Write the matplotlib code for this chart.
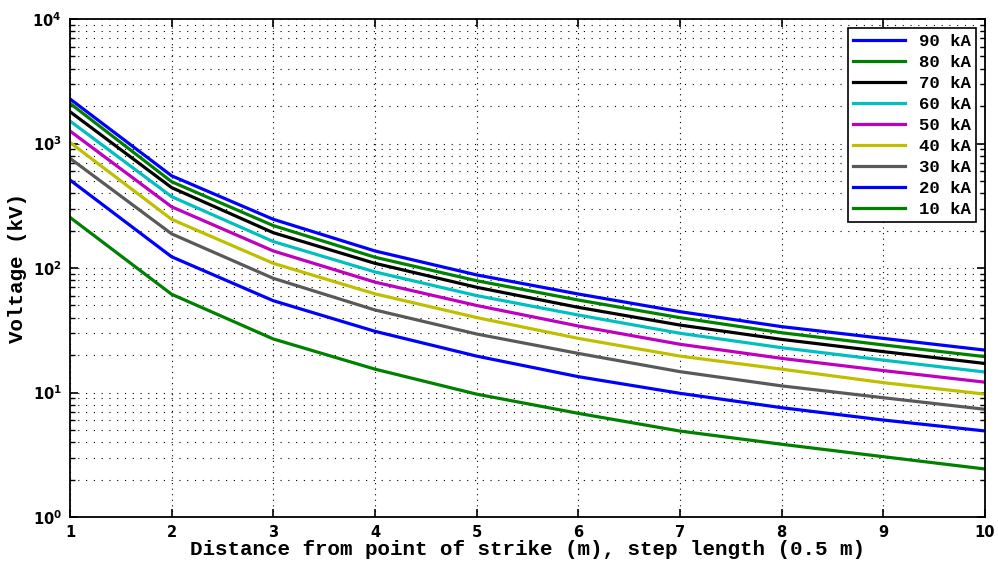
import matplotlib
matplotlib.use('Agg')
import matplotlib.pyplot as plt
import numpy as np
from matplotlib.ticker import LogLocator, NullFormatter

# distance from point of strike (m)
distance = [1, 2, 3, 4, 5, 6, 7, 8, 9, 10]

# step voltage (kV), one list per stroke current
v_90 = [2280, 550, 246, 137, 88, 61.8, 44.6, 33.8, 27.2, 21.9]
v_80 = [2100, 493, 219, 122, 79, 55.3, 39.9, 30.2, 24.1, 19.4]
v_70 = [1800, 442, 192, 109, 70, 48.3, 34.8, 26.7, 21.3, 17.1]
v_60 = [1515, 374, 163, 93, 60, 41.9, 29.9, 22.9, 18.2, 14.6]
v_50 = [1260, 310, 137, 77, 50, 34.2, 24.4, 18.8, 15.0, 12.1]
v_40 = [1020, 246, 109, 62, 40, 27.2, 19.6, 15.4, 12.0, 9.7]
v_30 = [760, 188, 82.6, 46, 29.5, 20.6, 14.7, 11.3, 9.08, 7.33]
v_20 = [509, 123, 54.6, 31, 19.6, 13.4, 9.85, 7.55, 6.01, 4.91]
v_10 = [255, 61.5, 26.9, 15.4, 9.7, 6.8, 4.9, 3.84, 3.05, 2.43]

labels = ['90 kA', '80 kA', '70 kA', '60 kA', '50 kA',
          '40 kA', '30 kA', '20 kA', '10 kA']
series = [v_90, v_80, v_70, v_60, v_50, v_40, v_30, v_20, v_10]
colors = ['#0000FF', '#008000', '#000000', '#00BFBF', '#BF00BF',
          '#BFBF00', '#595959', '#0000FF', '#008000']

MONO = 'Liberation Mono'

fig = plt.figure(figsize=(9.98, 5.63), dpi=100)
ax = fig.add_axes((70 / 998, 46 / 563, 915 / 998, 498 / 563))

for vals, lab, c in zip(series, labels, colors):
    ax.plot(distance, vals, color=c, lw=2.3, label=lab)

ax.set_yscale('log')
ax.set_xlim(1, 10)
ax.set_ylim(1, 1e4)
ax.set_xticks(distance)
ax.yaxis.set_major_locator(LogLocator(base=10, numticks=10))
ax.yaxis.set_minor_locator(LogLocator(base=10, subs=np.arange(2, 10), numticks=20))
ax.yaxis.set_minor_formatter(NullFormatter())

ax.grid(True, which='major', axis='x', color='k', lw=0.8, dashes=(1, 4))
ax.grid(True, which='both', axis='y', color='k', lw=0.8, dashes=(1, 6))

ax.tick_params(which='both', direction='in', top=True, right=True)
ax.tick_params(which='major', length=6, width=1.2, labelsize=10.5, pad=6)
ax.tick_params(which='minor', length=3.5, width=1)
for t in ax.get_xticklabels() + ax.get_yticklabels():
    t.set_fontweight('bold')
for s in ax.spines.values():
    s.set_linewidth(1.3)

ax.set_xlabel('Distance from point of strike (m), step length (0.5 m)',
              family=MONO, fontweight='bold', fontsize=15, labelpad=0)
ax.set_ylabel('Voltage (kV)', family=MONO, fontweight='bold', fontsize=15,
              labelpad=4)

leg = ax.legend(loc='upper right', bbox_to_anchor=(1.0, 0.9985),
                prop={'family': MONO, 'weight': 'bold', 'size': 12.5},
                fancybox=False, framealpha=1, edgecolor='k',
                handlelength=3.0, labelspacing=0.34, borderpad=0.3,
                handletextpad=0.8)
leg.get_frame().set_linewidth(1.2)

fig.savefig('out.png', dpi=100)
